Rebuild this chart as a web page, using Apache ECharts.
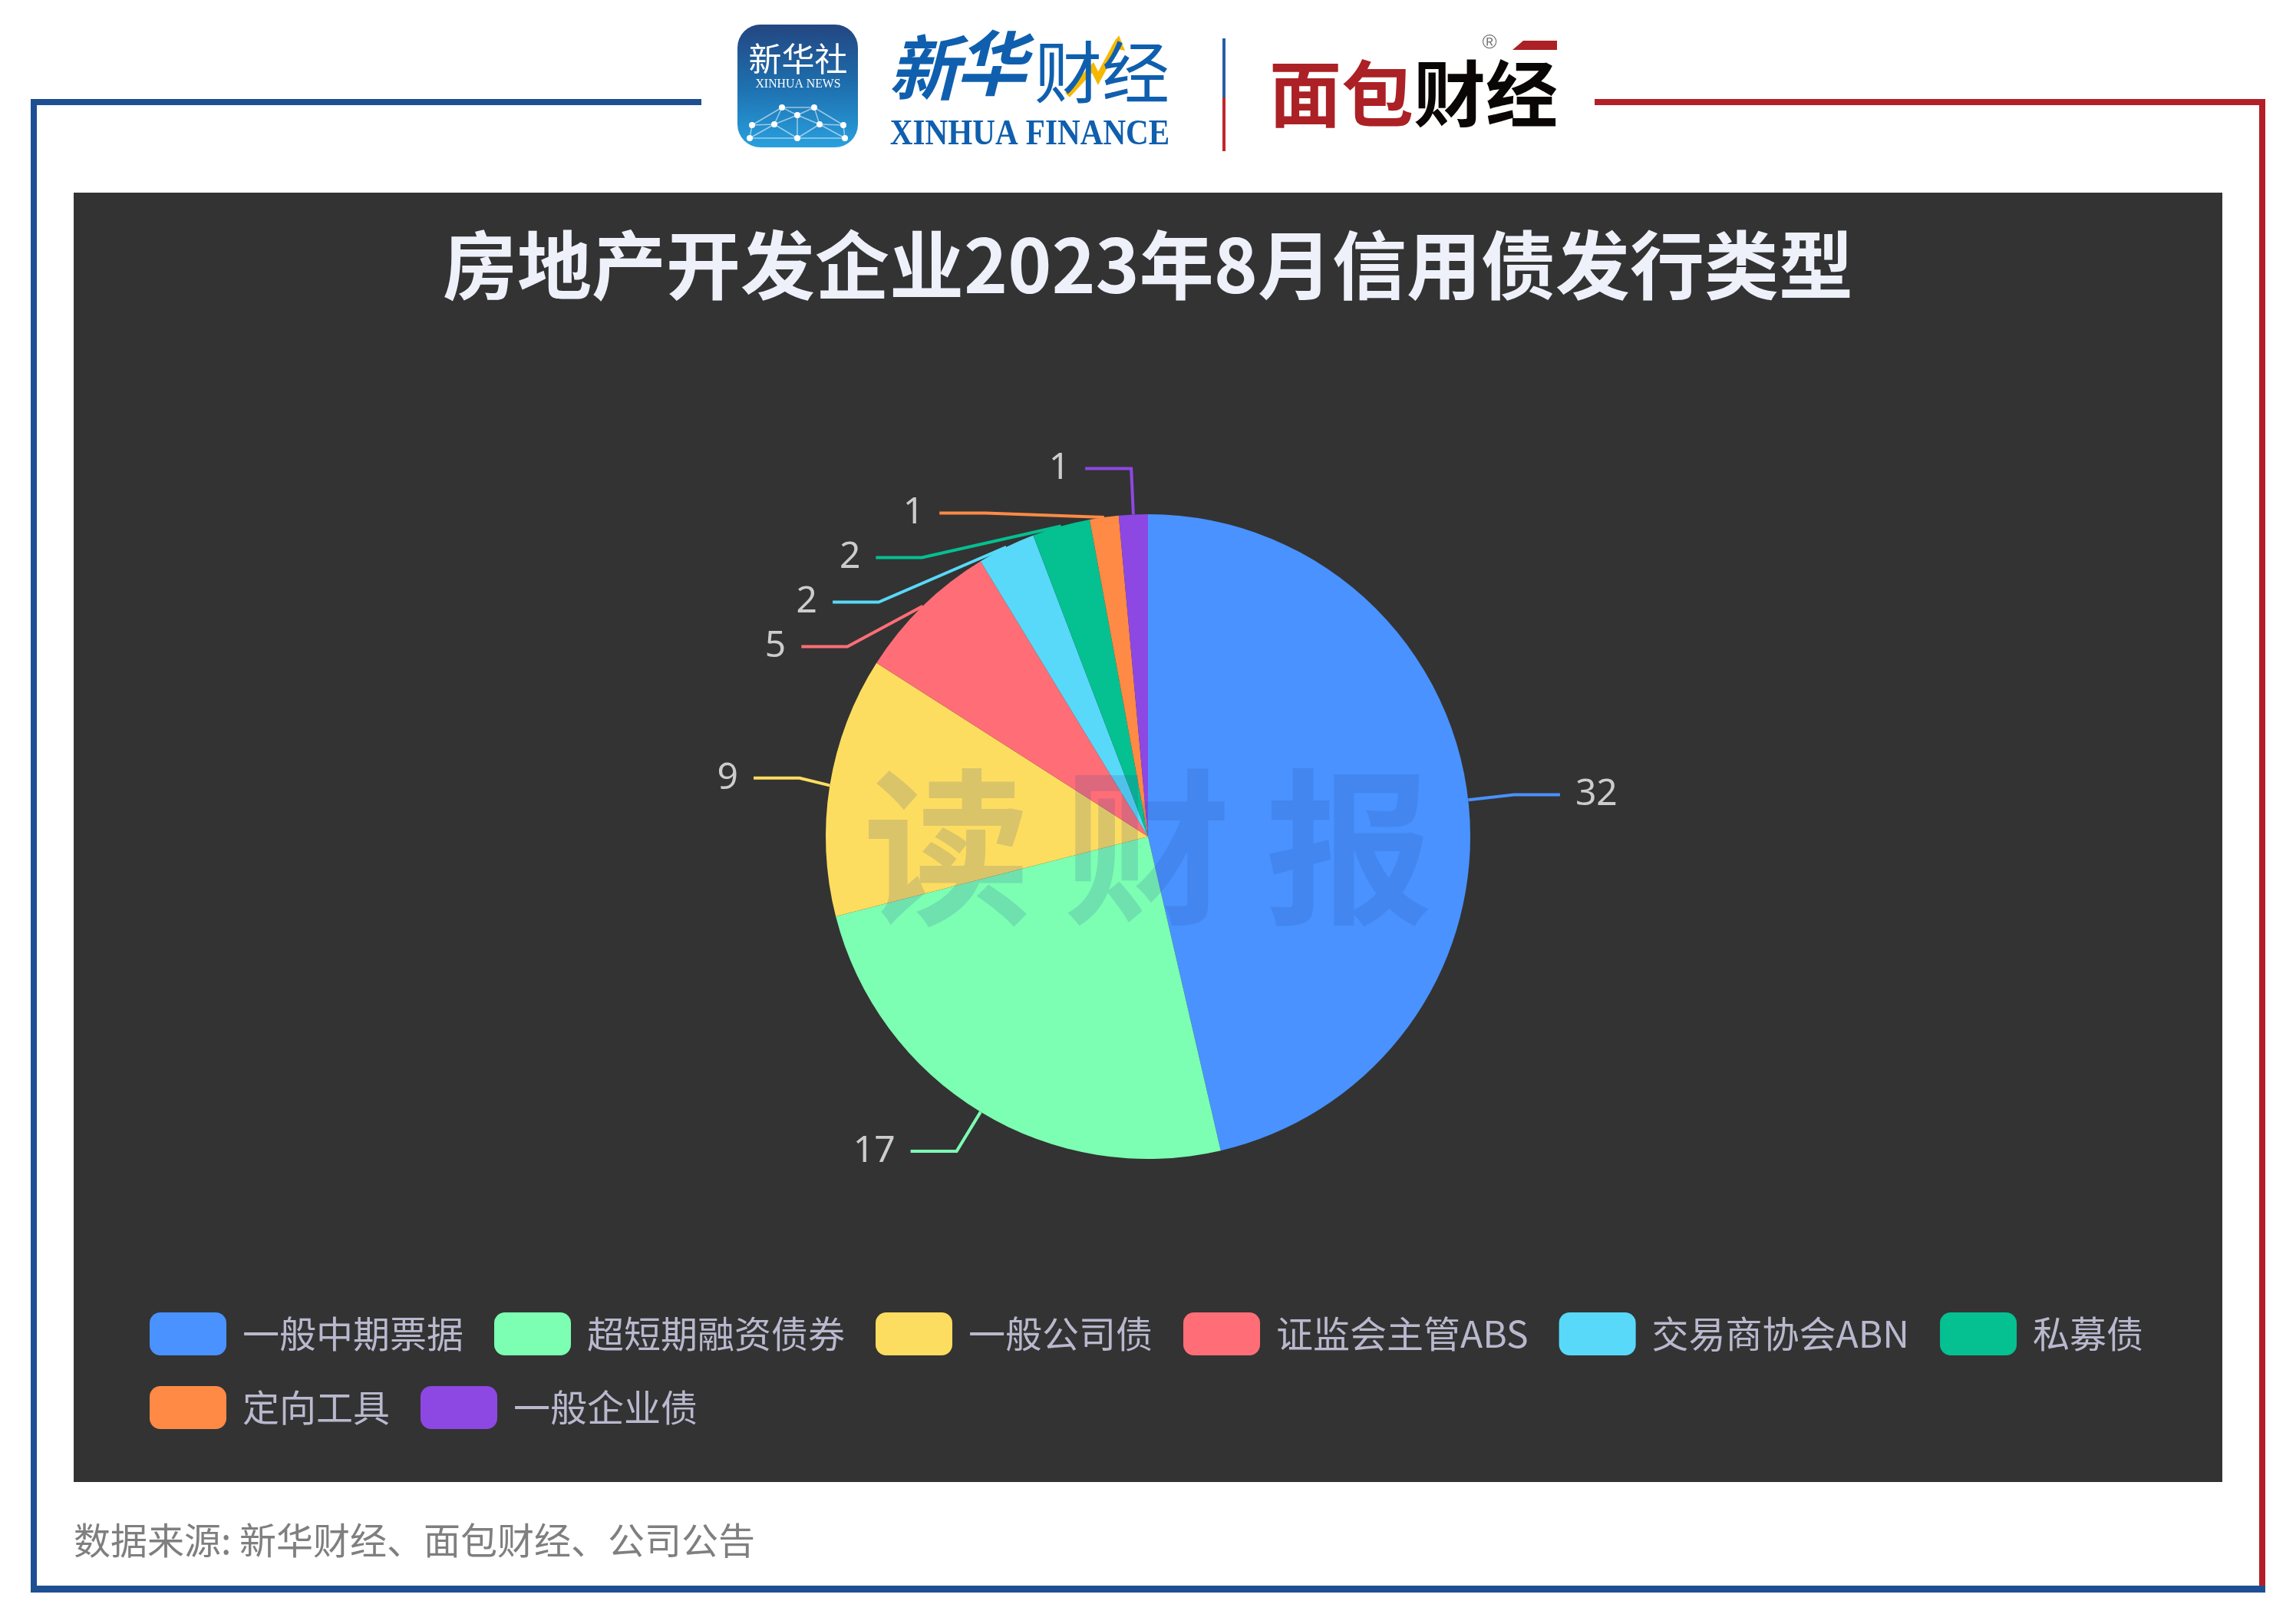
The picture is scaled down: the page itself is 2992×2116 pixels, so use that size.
<!DOCTYPE html>
<html><head><meta charset="utf-8">
<style>html,body{margin:0;padding:0;background:#fff}#c{width:2992px;height:2116px}</style>
<script src="https://cdn.jsdelivr.net/npm/echarts@6/dist/echarts.min.js"></script>
</head><body><div id="c"></div>
<script>
const categories = ['一般中期票据','超短期融资债券','一般公司债','证监会主管ABS','交易商协会ABN','私募债','定向工具','一般企业债'];
const values = [32,17,9,5,2,2,1,1];
const colors = ['#4992ff','#7cffb2','#fddd60','#ff6e76','#58d9f9','#05c091','#ff8a45','#8d48e3'];
const titleText = '房地产开发企业2023年8月信用债发行类型';
const sourceText = '数据来源: 新华财经、面包财经、公司公告';
const CJK = '"Noto Sans CJK SC"';

function rect(x,y,w,h,fill,extra){return Object.assign({type:'rect',shape:{x,y,width:w,height:h},style:{fill},silent:true},extra||{});}
function txt(x,y,text,fontSize,fill,o){o=o||{};return {type:'text',x,y,silent:true,z:o.z||1,scaleX:o.scaleX||1,style:{text,fill,fontSize,fontWeight:o.weight||'normal',fontStyle:o.style||'normal',fontFamily:o.family||CJK,textAlign:o.align||'center',textVerticalAlign:'middle'}};}

const netPts=[[1019,140],[1061,140],[1039,150],[1009,162],[1068,162],[980,163],[1099,163],[977,180],[1039,180],[1101,180]];
const netLinks=[[0,1],[0,2],[1,2],[0,3],[1,4],[2,3],[2,4],[3,5],[4,6],[5,7],[6,9],[3,7],[3,8],[4,8],[4,9],[0,5],[1,6],[2,8],[7,8],[8,9]];
const netGraphics=netLinks.map(l=>({type:'line',silent:true,shape:{x1:netPts[l[0]][0],y1:netPts[l[0]][1],x2:netPts[l[1]][0],y2:netPts[l[1]][1]},style:{stroke:'rgba(255,255,255,.55)',lineWidth:1.5}}))
 .concat(netPts.map(p=>({type:'circle',silent:true,shape:{cx:p[0],cy:p[1],r:4},style:{fill:'#fff'}})));

const graphics=[
 rect(96,251,2800,1680,'#333333'),
 rect(40,129,874,8,'#1d4f92'), rect(40,129,8,1946,'#1d4f92'), rect(40,2066,2912,9,'#1d4f92'),
 rect(2078,129,874,8,'#b31f28'), rect(2944,129,8,1937,'#b31f28'),
 rect(961,32,157,160,{type:'linear',x:0,y:0,x2:0,y2:1,colorStops:[{offset:0,color:'#234681'},{offset:.5,color:'#1e6fae'},{offset:1,color:'#29a0de'}]},{shape:{x:961,y:32,width:157,height:160,r:30}}),
 txt(1040,77,'新华社',43,'#ffffff'),
 txt(1040,110,'XINHUA NEWS',17,'#ffffff',{family:'"Liberation Serif"',scaleX:.93}),
 ...netGraphics,
 txt(1204,88,'新',92,'#0f5fae',{weight:'bold',style:'italic'}),
 txt(1292,82,'华',92,'#0f5fae',{weight:'bold',style:'italic'}),
 txt(1436,94,'财经',88,'#0f5fae'),
 {type:'polyline',silent:true,shape:{points:[[1391,124],[1424,88],[1431,102],[1458,52]]},style:{stroke:'#f5b800',fill:'none',lineWidth:8}},
 {type:'polygon',silent:true,shape:{points:[[1458,46],[1466,66],[1448,62]]},style:{fill:'#f5b800'}},
 txt(1342,176,'XINHUA FINANCE',46,'#0f5fae',{family:'"Liberation Serif"',weight:'bold',scaleX:.894}),
 rect(1593,50,4,77,'#2a5da8'), rect(1593,127,4,70,'#c0272d'),
 txt(1748,122,'面包',94,'#ab2125',{weight:'bold'}),
 txt(1936,122,'财经',94,'#0b0606',{weight:'bold'}),
 txt(1941,56,'®',26,'#777777',{family:'"Liberation Sans"'}),
 {type:'polygon',silent:true,shape:{points:[[1985,53],[2029,53],[2029,65],[1971,65]]},style:{fill:'#ab2125'}},
 txt(96,2007,sourceText,48,'#7f7f7f',{align:'left'}),
 txt(1234,1104,'读',218,'rgba(40,80,160,.17)',{weight:'bold',z:50}),
 txt(1495,1104,'财',218,'rgba(40,80,160,.17)',{weight:'bold',z:50}),
 txt(1758,1104,'报',218,'rgba(40,80,160,.17)',{weight:'bold',z:50})
];

const chart=echarts.init(document.getElementById('c'),null,{renderer:'canvas'});
chart.setOption({
 animation:false,
 backgroundColor:'#ffffff',
 color:colors,
 title:{text:titleText,left:'center',top:292,itemGap:0,textStyle:{color:'#EEF1FA',fontSize:97,fontWeight:'bold',fontFamily:CJK}},
 legend:{show:true,left:175,top:1690,width:2680,padding:20,itemWidth:100,itemHeight:56,itemGap:40,itemStyle:{borderWidth:0},
   icon:'roundRect',data:categories,textStyle:{color:'#B9B8CE',fontSize:48,padding:[0,0,6,16],fontFamily:CJK}},
 graphic:{elements:graphics},
 series:[{type:'pie',center:[1496,1090],radius:[0,420],startAngle:90,clockwise:true,
   data:categories.map((n,i)=>({name:n,value:values[i]})),
   label:{show:true,formatter:'{c}',color:'#cccccc',fontSize:48,lineHeight:56,fontFamily:'"Noto Sans",sans-serif',distanceToLabelLine:20},
   labelLine:{show:true,length:60,length2:60,smooth:false,lineStyle:{width:4}},
   itemStyle:{borderWidth:0},z:2}]
});
</script></body></html>
